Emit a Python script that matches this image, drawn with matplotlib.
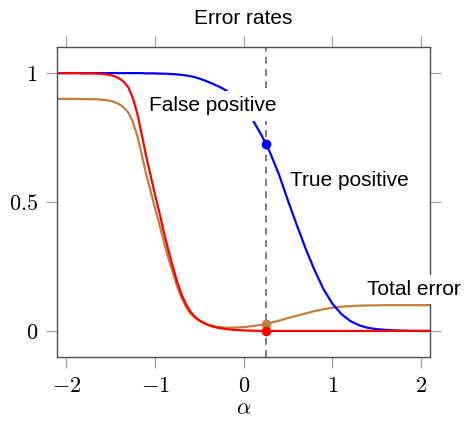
import matplotlib
matplotlib.use("Agg")
import matplotlib.pyplot as plt

# ---- data ----
x_vals = [-2.1, -2.0, -1.9, -1.8, -1.7, -1.65, -1.6, -1.55, -1.5, -1.45, -1.4,
          -1.35, -1.3, -1.25, -1.2, -1.15, -1.1, -1.05, -1.0, -0.95, -0.9,
          -0.85, -0.8, -0.75, -0.7, -0.65, -0.6, -0.55, -0.5, -0.45, -0.4,
          -0.35, -0.3, -0.25, -0.2, -0.1, 0.0, 0.1, 0.2, 0.25, 0.3, 0.4, 0.5,
          0.6, 0.7, 0.8, 0.9, 1.0, 1.1, 1.2, 1.3, 1.4, 1.5, 1.6, 1.7, 1.8,
          1.9, 2.0, 2.1]

true_positive = [1.0, 1.0, 1.0, 1.0, 1.0, 1.0, 1.0, 1.0, 1.0, 1.0, 1.0,
                 1.0, 1.0, 1.0, 1.0, 1.0, 0.999, 0.999, 0.999, 0.998, 0.998,
                 0.997, 0.996, 0.995, 0.993, 0.991, 0.988, 0.984, 0.979, 0.973, 0.966,
                 0.959, 0.951, 0.943, 0.933, 0.907, 0.866, 0.82, 0.76, 0.726, 0.69, 0.605, 0.505,
                 0.41, 0.318, 0.235, 0.162, 0.106, 0.066, 0.039, 0.022, 0.012, 0.007, 0.004, 0.002, 0.001,
                 0.0, 0.0, 0.0]

false_positive = [1.0, 1.0, 1.0, 0.999, 0.999, 0.998, 0.997, 0.995, 0.992, 0.987, 0.979,
                  0.966, 0.945, 0.905, 0.845, 0.765, 0.68, 0.605, 0.53, 0.46, 0.385,
                  0.315, 0.252, 0.192, 0.142, 0.103, 0.075, 0.055, 0.041, 0.031, 0.023,
                  0.017, 0.013, 0.01, 0.007, 0.004, 0.002, 0.001, 0.0, 0.0, 0.0, 0.0, 0.0,
                  0.0, 0.0, 0.0, 0.0, 0.0, 0.0, 0.0, 0.0, 0.0, 0.0, 0.0, 0.0, 0.0,
                  0.0, 0.0, 0.0]

total_error = [0.9, 0.9, 0.9, 0.899, 0.899, 0.898, 0.897, 0.895, 0.892, 0.887, 0.879,
               0.866, 0.847, 0.812, 0.758, 0.686, 0.61, 0.544, 0.477, 0.414, 0.347,
               0.284, 0.227, 0.173, 0.128, 0.093, 0.068, 0.051, 0.039, 0.031, 0.024,
               0.019, 0.016, 0.014, 0.013, 0.013, 0.015, 0.019, 0.024, 0.028, 0.031, 0.04, 0.05,
               0.059, 0.068, 0.077, 0.084, 0.09, 0.094, 0.096, 0.098, 0.099, 0.099, 0.1, 0.1, 0.1,
               0.1, 0.1, 0.1]

alpha_mark = 0.25
mark_tp = 0.726
mark_fp = 0.0
mark_total = 0.028

xticks = [-2, -1, 0, 1, 2]
xtick_labels = [r"$-2$", r"$-1$", r"$0$", r"$1$", r"$2$"]
yticks = [0, 0.5, 1]
ytick_labels = [r"$0$", r"$0.5$", r"$1$"]

title = "Error rates"
xlabel = r"$\alpha$"
label_fp = "False positive"
label_tp = "True positive"
label_total = "Total error"

# ---- style ----
plt.rcParams["mathtext.fontset"] = "cm"
plt.rcParams["font.family"] = ["Liberation Sans", "DejaVu Sans"]

BLUE = (0, 0, 1)
RED = (1, 0, 0)
BROWN = (0.75, 0.5, 0.25)

fig = plt.figure(figsize=(4.66, 4.21), dpi=100)
ax = fig.add_axes([0.123, 0.1527, 0.7997, 0.7349])

lw = 1.6
ax.plot(x_vals, total_error, color=BROWN, lw=lw, zorder=2, solid_joinstyle="round")
ax.plot(x_vals, true_positive, color=BLUE, lw=lw, zorder=2.1, solid_joinstyle="round")
ax.plot(x_vals, false_positive, color=RED, lw=lw, zorder=2.2, solid_joinstyle="round")

ax.axvline(alpha_mark, color="#5a5a5a", lw=1.1, ls=(0, (4.5, 3.5)), zorder=1.5)

ax.plot([alpha_mark], [mark_tp], "o", color=BLUE, ms=6, zorder=4)
ax.plot([alpha_mark], [mark_total], "o", color=BROWN, ms=6, zorder=4)
ax.plot([alpha_mark], [mark_fp], "o", color=RED, ms=6, zorder=4)

ax.set_xlim(-2.1, 2.1)
ax.set_ylim(-0.1, 1.1)
ax.set_xticks(xticks)
ax.set_xticklabels(xtick_labels, fontsize=16)
ax.set_yticks(yticks)
ax.set_yticklabels(ytick_labels, fontsize=16)
ax.tick_params(direction="out", length=8, width=0.9, color="#a0a0a0",
               top=True, right=True, labeltop=False, labelright=False, pad=6)

for s in ax.spines.values():
    s.set_color("#4d4d4d")
    s.set_linewidth(1.0)

box = dict(boxstyle="square,pad=0.25", fc="white", ec="none")
ax.text(-0.35, 0.873, label_fp, fontsize=15, ha="center", va="center", bbox=box, zorder=5)
ax.text(1.19, 0.583, label_tp, fontsize=15, ha="center", va="center", zorder=5)
ax.text(1.92, 0.161, label_total, fontsize=15, ha="center", va="center", bbox=box,
        zorder=5, clip_on=False)

ax.set_title(title, fontsize=15, pad=17)
ax.set_xlabel(xlabel, fontsize=16, labelpad=1)

fig.savefig("out.png", dpi=100)
